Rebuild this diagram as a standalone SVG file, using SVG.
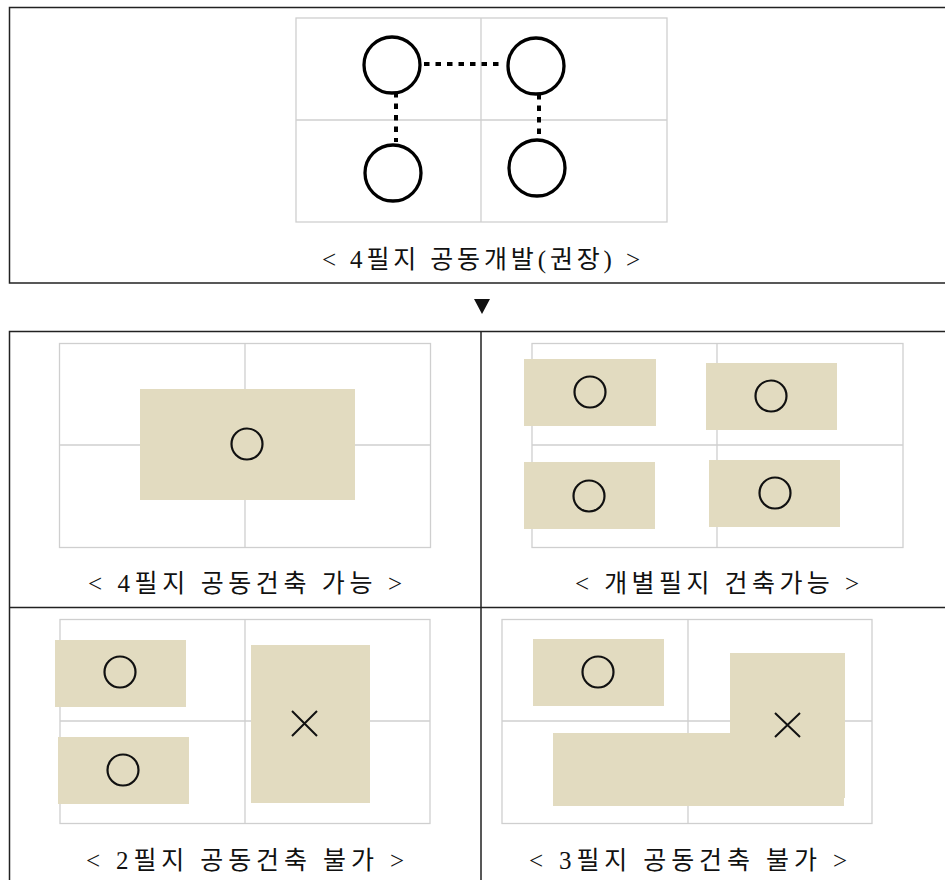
<svg xmlns="http://www.w3.org/2000/svg" width="945" height="880" viewBox="0 0 945 880">
<style>
.frame{fill:none;stroke:#222;stroke-width:1.5}
.grid{fill:none;stroke:#cfcfcf;stroke-width:1.3}
.lot{fill:#E2DBC0}
.big{fill:#fff;stroke:#000;stroke-width:3.3}
.ok{fill:none;stroke:#111;stroke-width:2.2}
.no{stroke:#111;stroke-width:2}
.dash{stroke:#000;stroke-width:4;stroke-dasharray:5.5 6;fill:none}
.cap{font-family:"Liberation Serif","Noto Sans CJK KR",serif;font-size:25px;fill:#111;text-anchor:middle}
</style>
<rect width="945" height="880" fill="#fff"/>
<!-- frames -->
<g id="frames">
<path class="frame" d="M950 7.5H9.5V283H950"/>
<path class="frame" d="M950 331.5H9.5V890M481 331.5V890M9.5 607.5H950"/>
</g>
<!-- top panel -->
<g id="panel-top">
<rect class="grid" x="296" y="18" width="371" height="204"/>
<path class="grid" d="M481 18V222M296 120H667"/>
</g>
<g id="connectors">
<path class="dash" d="M424 64H503"/>
<path class="dash" d="M396 92V142"/>
<path class="dash" d="M539 94V139"/>
</g>
<g id="lot-1"><circle class="big" cx="392" cy="65" r="28"/></g>
<g id="lot-2"><circle class="big" cx="536" cy="66" r="28"/></g>
<g id="lot-3"><circle class="big" cx="393" cy="173" r="28"/></g>
<g id="lot-4"><circle class="big" cx="537" cy="168" r="28"/></g>
<text class="cap" x="481" y="268" textLength="318" lengthAdjust="spacing">&lt; 4필지 공동개발(권장) &gt;</text>
<!-- arrow -->
<g id="arrow"><path d="M474 299H490L482 314Z" fill="#111"/></g>
<!-- panel A -->
<g id="panel-a">
<rect class="grid" x="59.5" y="343.5" width="371" height="204"/>
<path class="grid" d="M245 343.5V547.5M59.5 445H430.5"/>
<rect class="lot" x="140" y="389" width="215" height="111"/>
<circle class="ok" cx="247" cy="444" r="15.5"/>
<text class="cap" x="245" y="592" textLength="314" lengthAdjust="spacing">&lt; 4필지 공동건축 가능 &gt;</text>
</g>
<!-- panel B -->
<g id="panel-b">
<rect class="grid" x="532" y="343.5" width="371" height="204"/>
<path class="grid" d="M717 343.5V547.5M532 445H903"/>
<rect class="lot" x="524" y="359" width="132" height="67"/>
<rect class="lot" x="706" y="363" width="131" height="67"/>
<rect class="lot" x="524" y="462" width="131" height="67"/>
<rect class="lot" x="709" y="460" width="131" height="67"/>
<circle class="ok" cx="590" cy="392" r="15.5"/>
<circle class="ok" cx="771" cy="396" r="15.5"/>
<circle class="ok" cx="589" cy="496" r="15.5"/>
<circle class="ok" cx="775" cy="493" r="15.5"/>
<text class="cap" x="717" y="592" textLength="284" lengthAdjust="spacing">&lt; 개별필지 건축가능 &gt;</text>
</g>
<!-- panel C -->
<g id="panel-c">
<rect class="grid" x="60" y="619.5" width="370" height="204"/>
<path class="grid" d="M245 619.5V823.5M60 721H430"/>
<rect class="lot" x="55" y="640" width="131" height="67"/>
<rect class="lot" x="58" y="737" width="131" height="67"/>
<rect class="lot" x="251" y="645" width="119" height="158"/>
<circle class="ok" cx="120" cy="672" r="15.5"/>
<circle class="ok" cx="123" cy="770" r="15.5"/>
<path class="no" d="M292 711L317 736M317 711L292 736"/>
<text class="cap" x="245" y="869" textLength="318" lengthAdjust="spacing">&lt; 2필지 공동건축 불가 &gt;</text>
</g>
<!-- panel D -->
<g id="panel-d">
<rect class="grid" x="502" y="619.5" width="370" height="204"/>
<path class="grid" d="M688 619.5V823.5M502 721H872"/>
<rect class="lot" x="533" y="639" width="131" height="67"/>
<path class="lot" d="M730 653H845V798H844V806H553V733H730Z"/>
<circle class="ok" cx="598" cy="672" r="15.5"/>
<path class="no" d="M775 713L800 737M800 713L775 737"/>
<text class="cap" x="688" y="869" textLength="318" lengthAdjust="spacing">&lt; 3필지 공동건축 불가 &gt;</text>
</g>
</svg>
